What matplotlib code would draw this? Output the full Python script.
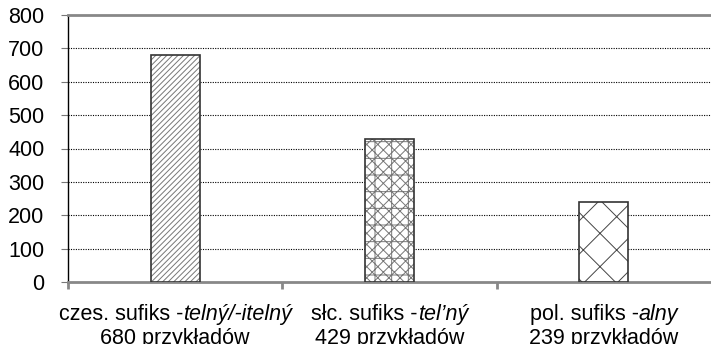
import matplotlib.pyplot as plt
from matplotlib.offsetbox import TextArea, HPacker, VPacker, AnnotationBbox

plt.rcParams['font.family'] = ['Liberation Sans', 'DejaVu Sans']
plt.rcParams['hatch.linewidth'] = 0.7

# dane
prefix = ['czes. sufiks -', 'słc. sufiks -', 'pol. sufiks -']
suffix = ['telný/-itelný', 'tel’ný', 'alny']
values = [680, 429, 239]
counts = ['680 przykładów', '429 przykładów', '239 przykładów']
hatches = ['//////', 'xxx+', 'x']
hatch_colors = ['#777777', '#777777', '#444444']

fs = 15.5

fig = plt.figure(figsize=(7.11, 3.44), dpi=100)
ax = fig.add_axes([68 / 711, 1 - 282 / 344, 1 - 68 / 711, (282 - 15) / 344])

x = range(len(values))
w = 0.23
# wypełnienie (kreskowanie)
for i, v in enumerate(values):
    ax.bar(i, v, width=w, color='white', edgecolor=hatch_colors[i],
           hatch=hatches[i], linewidth=0, zorder=3)
# obramowanie
ax.bar(x, values, width=w, fill=False, edgecolor='#333333', linewidth=1.2, zorder=4)

ax.set_xlim(-0.5, 2.5)
ax.set_ylim(0, 800)
ax.set_yticks(range(0, 801, 100))
ax.tick_params(axis='y', labelsize=fs, length=5, color='#777777', pad=12)

# siatka
for yv in range(100, 800, 100):
    ax.axhline(yv, color='black', linestyle=(0, (1, 1.2)), linewidth=0.8, zorder=1)

ax.spines['right'].set_visible(False)
ax.spines['top'].set_color('#888888')
ax.spines['top'].set_linewidth(2)
ax.spines['bottom'].set_color('#888888')
ax.spines['bottom'].set_linewidth(2)
ax.spines['left'].set_color('black')
ax.spines['left'].set_linewidth(1)

ax.set_xticks([-0.5, 0.5, 1.5])
ax.set_xticklabels([])
ax.tick_params(axis='x', length=5, width=2, color='#888888')

# etykiety kategorii
for i in x:
    line1 = HPacker(children=[
        TextArea(prefix[i], textprops=dict(fontsize=fs)),
        TextArea(suffix[i], textprops=dict(fontsize=fs, style='italic')),
    ], pad=0, sep=0)
    line2 = TextArea(counts[i], textprops=dict(fontsize=fs))
    box = VPacker(children=[line1, line2], align='center', pad=0, sep=2)
    ab = AnnotationBbox(box, (i, 0), xybox=(0, -16), xycoords=('data', 'axes fraction'),
                        boxcoords='offset points', box_alignment=(0.5, 1),
                        frameon=False, annotation_clip=False)
    ax.add_artist(ab)

fig.savefig('out.png', dpi=100)
